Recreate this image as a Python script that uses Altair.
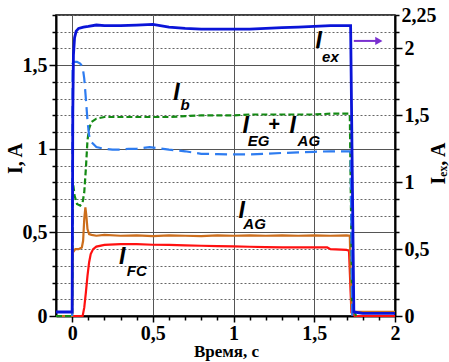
import altair as alt
import pandas as pd

# ---- data (time in s, currents in A) ----
iex_t = [-0.1, -0.05, 0.0, 0.004, 0.008, 0.015, 0.025, 0.04, 0.07, 0.1, 0.15, 0.2, 0.3, 0.4, 0.5, 0.6, 0.7,
         0.8, 0.9, 1.0, 1.1, 1.2, 1.3, 1.4, 1.5, 1.6, 1.7, 1.725, 1.735, 1.745, 1.8, 1.9, 2.0]
iex_v = [0.03, 0.03, 0.03, 1.5, 1.95, 2.08, 2.13, 2.15, 2.16, 2.165, 2.175, 2.17, 2.17, 2.175, 2.18, 2.16, 2.15,
         2.145, 2.145, 2.145, 2.145, 2.15, 2.155, 2.16, 2.165, 2.17, 2.17, 2.17, 1.1, 0.03, 0.02, 0.02, 0.02]

ib_t = [0.0, 0.003, 0.01, 0.03, 0.05, 0.065, 0.075, 0.085, 0.095, 0.105, 0.12, 0.15, 0.2, 0.25, 0.3, 0.35,
        0.4, 0.48, 0.6, 0.7, 0.8, 0.9, 1.0, 1.1, 1.2, 1.3, 1.4, 1.5, 1.6, 1.7, 1.725, 1.735]
ib_v = [0.0, 1.51, 1.52, 1.52, 1.51, 1.49, 1.42, 1.3, 1.17, 1.08, 1.04, 1.01, 1.0, 0.995, 0.995, 1.0,
        1.0, 1.01, 0.995, 0.985, 0.97, 0.968, 0.966, 0.966, 0.97, 0.975, 0.978, 0.982, 0.985, 0.985, 0.985, 0.0]

eg_t = [-0.1, 0.0, 0.005, 0.015, 0.03, 0.05, 0.065, 0.075, 0.085, 0.095, 0.105, 0.12, 0.15, 0.2, 0.3, 0.4,
        0.5, 0.6, 0.7, 0.8, 0.9, 1.0, 1.1, 1.2, 1.3, 1.4, 1.5, 1.6, 1.7, 1.72, 1.735, 1.76]
eg_v = [0.0, 0.0, 0.8, 0.72, 0.67, 0.66, 0.68, 0.74, 0.88, 1.05, 1.12, 1.16, 1.18, 1.19, 1.19, 1.19,
        1.19, 1.19, 1.195, 1.2, 1.2, 1.2, 1.205, 1.205, 1.205, 1.205, 1.205, 1.21, 1.21, 1.21, 0.05, 0.0]

ag_t = [-0.1, 0.0, 0.004, 0.02, 0.04, 0.06, 0.068, 0.075, 0.082, 0.088, 0.095, 0.105, 0.12, 0.15, 0.2, 0.3,
        0.4, 0.5, 0.6, 0.7, 0.8, 0.9, 1.0, 1.1, 1.2, 1.3, 1.4, 1.5, 1.6, 1.7, 1.72, 1.73, 1.75, 1.9, 2.0]
ag_v = [0.0, 0.0, 0.38, 0.40, 0.40, 0.41, 0.45, 0.58, 0.65, 0.6, 0.52, 0.49, 0.485, 0.48, 0.485, 0.48,
        0.482, 0.478, 0.482, 0.48, 0.478, 0.482, 0.48, 0.482, 0.48, 0.482, 0.48, 0.482, 0.48, 0.482, 0.48, 0.05, 0.025, 0.025, 0.025]

fc_t = [-0.1, 0.065, 0.075, 0.085, 0.095, 0.105, 0.115, 0.13, 0.15, 0.2, 0.3, 0.4, 0.5, 0.6, 0.7, 0.8, 0.9,
        1.0, 1.1, 1.2, 1.3, 1.4, 1.5, 1.58, 1.6, 1.7, 1.715, 1.73, 1.75, 2.0]
fc_v = [0.0, 0.0, 0.05, 0.14, 0.24, 0.32, 0.37, 0.40, 0.415, 0.425, 0.43, 0.43, 0.426, 0.425, 0.422, 0.42, 0.418,
        0.416, 0.414, 0.412, 0.41, 0.41, 0.41, 0.41, 0.40, 0.395, 0.39, 0.02, 0.0, 0.0]

x_ticks = [round(i * 0.1, 1) for i in range(0, 21)]
x_labels = [0, 0.5, 1, 1.5, 2]
yl_ticks = [round(i * 0.1, 1) for i in range(0, 19)]
yl_labels = [0, 0.5, 1, 1.5]
yr_ticks = [round(i * 0.125, 3) for i in range(0, 19)]
yr_labels = [0, 0.5, 1, 1.5, 2, 2.25]

# annotations (data coordinates on left axis)
big_txt = ["I", "I", "I", "I", "I", "I"]
big_t = [1.528, 0.646, 1.075, 1.366, 1.05, 0.31]
big_v = [1.644, 1.332, 1.134, 1.134, 0.63, 0.354]
plus_txt = ["+"]
plus_t = [1.25]
plus_v = [1.14]
sub_txt = ["ex", "b", "EG", "AG", "AG", "FC"]
sub_t = [1.60, 0.70, 1.155, 1.466, 1.13, 0.40]
sub_v = [1.548, 1.262, 1.044, 1.044, 0.552, 0.27]
arrow_t = [1.745]
arrow_t2 = [1.90]
arrow_v = [1.645]

MAJOR = "abs(datum.value*2 - round(datum.value*2)) < 0.001"


def lab_expr(labels):
    arr = ",".join(str(v) for v in labels)
    return f"indexof([{arr}], datum.value) >= 0 ? replace(format(datum.value, '~g'), '.', ',') : ''"


x_axis = alt.Axis(values=x_ticks, labelExpr=lab_expr(x_labels), grid=True,
                  gridColor="#555", gridWidth=1,
                  gridOpacity={"condition": {"test": "datum.value < 1.9 && " + MAJOR, "value": 1}, "value": 0},
                  tickSize={"condition": {"test": MAJOR, "value": 6}, "value": 4},
                  labelPadding=1, labelFlush=False, labelOverlap=False,
                  titleX=170, titleY=27, titleBaseline="top", titleAlign="center", titleFontSize=17)
X = alt.X("t:Q", scale=alt.Scale(domain=[-0.1, 2.0], nice=False, zero=False), axis=x_axis, title="Время, с")

yl_axis = alt.Axis(values=yl_ticks, labelExpr=lab_expr(yl_labels), grid=True,
                   gridColor={"condition": {"test": MAJOR, "value": "#555"}, "value": "#666"},
                   gridDash={"condition": {"test": MAJOR, "value": []}, "value": [2, 2]},
                   gridWidth=1,
                   tickSize={"condition": {"test": MAJOR, "value": 7}, "value": 4},
                   labelPadding=2, labelOverlap=False, labelFlush=False,
                   titleX=-41, titleY=143, titleAngle=270, titleBaseline="middle", titleAlign="center")
YL = alt.Y("v:Q", scale=alt.Scale(domain=[0, 1.8], nice=False), axis=yl_axis, title="I, A")

yr_axis = alt.Axis(orient="right", values=yr_ticks, labelExpr=lab_expr(yr_labels), grid=False,
                   tickSize={"condition": {"test": MAJOR, "value": 7}, "value": 4},
                   labelPadding=2, labelOverlap=False, labelFlush=False,
                   titleX=43, titleY=148, titleAngle=270, titleBaseline="middle", titleAlign="center")
YR = alt.Y("v:Q", scale=alt.Scale(domain=[0, 2.25], nice=False), axis=yr_axis, title="Iₑₓ, A")


def line(t, v, color, width, dash=None, y=YL):
    df = pd.DataFrame({"t": t, "v": v})
    kw = dict(color=color, strokeWidth=width)
    if dash:
        kw["strokeDash"] = dash
    return alt.Chart(df).mark_line(**kw).encode(x=X, y=y)


def texts(t, v, txt, size):
    return alt.Chart(pd.DataFrame({"t": t, "v": v, "txt": txt})).mark_text(
        font="Liberation Sans", fontStyle="italic", fontWeight="bold", fontSize=size, color="black",
        align="center", baseline="middle").encode(x=X, y=YL, text="txt:N")


fc = line(fc_t, fc_v, "#ff1010", 2.2)
ag = line(ag_t, ag_v, "#cc6e1c", 2.2)
eg = line(eg_t, eg_v, "#148a14", 2.2, [6, 3])
ib = line(ib_t, ib_v, "#2e7cf0", 2.2, [12, 6])

big = texts(big_t, big_v, big_txt, 23)
plus = texts(plus_t, plus_v, plus_txt, 20)
sub = texts(sub_t, sub_v, sub_txt, 15)

arrow_df = pd.DataFrame({"t": arrow_t, "t2": arrow_t2, "v": arrow_v})
arrow_line = alt.Chart(arrow_df).mark_rule(color="#7a30d0", strokeWidth=2).encode(x=X, x2="t2:Q", y=YL)
arrow_head = alt.Chart(arrow_df).mark_point(shape="triangle-right", filled=True, size=70,
                                            color="#7a30d0", opacity=1).encode(
    x=alt.X("t2:Q", scale=alt.Scale(domain=[-0.1, 2.0], nice=False, zero=False), axis=x_axis, title="Время, с"),
    y=YL)

left = alt.layer(fc, ag, eg, ib, big, plus, sub, arrow_line, arrow_head)
right = line(iex_t, iex_v, "#0a14d8", 2.8, y=YR)

chart = alt.layer(left, right).resolve_scale(y="independent").properties(
    width=339, height=301,
    autosize=alt.AutoSizeParams(type="none"),
    padding={"left": 56, "top": 15, "right": 54, "bottom": 46},
    background="white",
).configure_view(stroke="black", strokeWidth=1.5).configure_axis(
    labelFont="Liberation Serif", labelFontSize=20, labelFontWeight="bold", labelColor="black",
    titleFont="Liberation Serif", titleFontSize=20, titleFontWeight="bold", titleColor="black",
    domainColor="black", domainWidth=2, tickColor="black", tickWidth=1.5,
)

chart.save("out.html", embed_options={"renderer": "svg", "actions": False})
